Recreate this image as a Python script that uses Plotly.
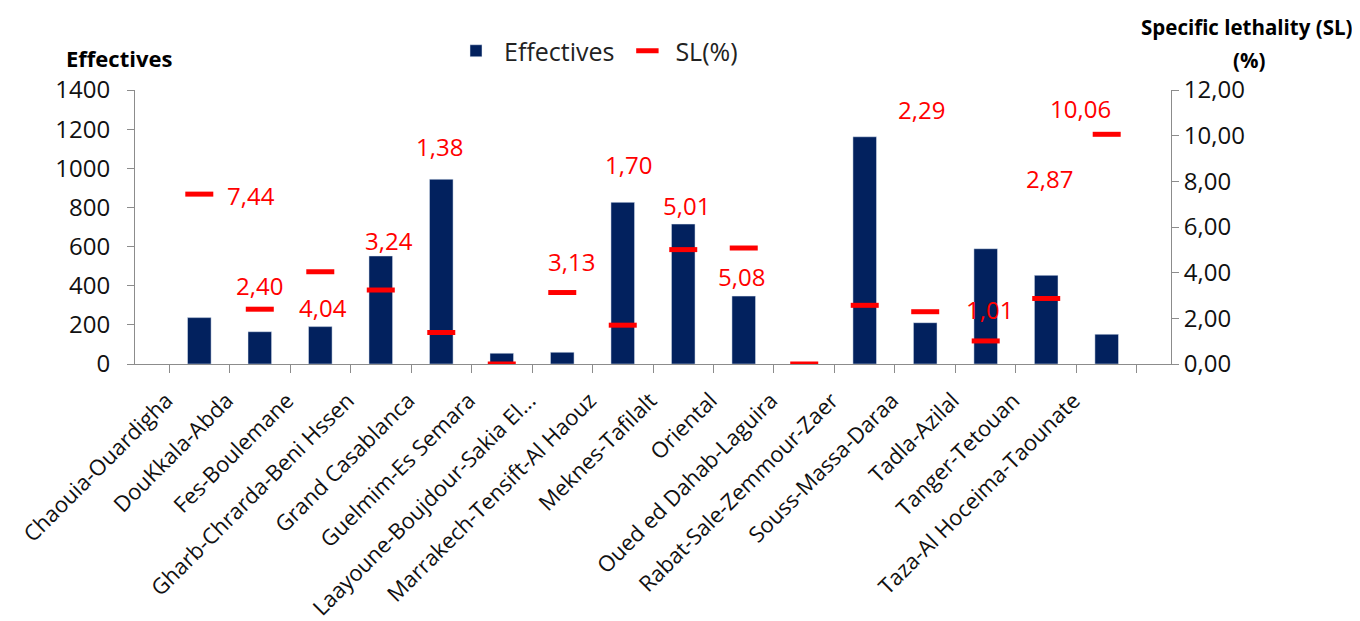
import plotly.graph_objects as go

regions = ["Chaouia-Ouardigha", "DouKkala-Abda", "Fes-Boulemane", "Gharb-Chrarda-Beni Hssen",
           "Grand Casablanca", "Guelmim-Es Semara", "Laayoune-Boujdour-Sakia El...",
           "Marrakech-Tensift-Al Haouz", "Meknes-Tafilalt", "Oriental", "Oued ed Dahab-Laguira",
           "Rabat-Sale-Zemmour-Zaer", "Souss-Massa-Daraa", "Tadla-Azilal", "Tanger-Tetouan",
           "Taza-Al Hoceima-Taounate"]
effectives = [237, 165, 191, 552, 944, 55, 60, 826, 715, 347, 2, 1161, 211, 589, 453, 152]
sl = [7.44, 2.40, 4.04, 3.24, 1.38, 0.0, 3.13, 1.70, 5.01, 5.08, 0.0, 2.57, 2.29, 1.01, 2.87, 10.06]
# which SL values carry a visible label in the reference
sl_labelled = [True, True, True, True, True, False, True, True, True, True, False, False, True, True, True, True]

# label placement (layout only): y in SL units, x shift in pixels
label_y = [7.4, 3.46, 2.47, 5.39, 9.52, 0, 4.51, 8.72, 6.92, 3.82, 0, 0, 11.16, 2.37, 8.13, 11.2]
label_dx = [52, 0, 3, 8, -2, 0, 9, 6, 3, -2, 0, 0, -4, 4, 3, -26]

FONT = "Open Sans"
NAVY = "#02215E"
RED = "#FF0000"
AXIS = "#8C8C8C"

W, H = 1360, 621
L, R, T, B = 127, 197, 82, 265
OX, OY = 2, 8  # page offset of the figure


def px(x):
    return (x - OX - L) / (W - L - R)


def py(y):
    return (H - B - (y - OY)) / (H - T - B)


fig = go.Figure()
fig.add_trace(go.Bar(x=regions, y=effectives, name="Effectives", marker_color=NAVY,
                     width=0.39, yaxis="y"))
fig.add_trace(go.Scatter(x=regions, y=sl, name="SL(%)", mode="markers", yaxis="y2",
                         marker=dict(symbol="line-ew", size=20, color=RED,
                                     line=dict(color=RED, width=5))))

for r, v, show, ly, dx in zip(regions, sl, sl_labelled, label_y, label_dx):
    if show:
        fig.add_annotation(x=r, y=ly, xref="x", yref="y2", text=f"{v:.2f}".replace(".", ","),
                           showarrow=False, xshift=dx, xanchor="center", yanchor="middle",
                           font=dict(family=FONT, size=24, color=RED))

fig.add_annotation(x=px(113), y=py(58), xref="paper", yref="paper", text="<b>Effectives</b>",
                   showarrow=False, xanchor="center", yanchor="middle",
                   font=dict(family=FONT, size=22, color="black"))
fig.add_annotation(x=px(1241), y=py(27), xref="paper", yref="paper",
                   text="<b>Specific lethality (SL)</b>", showarrow=False,
                   xanchor="center", yanchor="middle",
                   font=dict(family=FONT, size=20.5, color="black"))
fig.add_annotation(x=px(1243), y=py(60), xref="paper", yref="paper",
                   text="<b>(%)</b>", showarrow=False,
                   xanchor="center", yanchor="middle",
                   font=dict(family=FONT, size=20.5, color="black"))

fig.update_layout(
    width=W, height=H,
    margin=dict(l=L, r=R, t=T, b=B, autoexpand=False),
    plot_bgcolor="white", paper_bgcolor="white",
    separators=",.",
    font=dict(family=FONT, size=22, color="black"),
    bargap=0.6,
    showlegend=True,
    legend=dict(orientation="h", x=px(442), y=py(51), xanchor="left", yanchor="middle",
                font=dict(family=FONT, size=25, color="#222222"), itemwidth=46,
                bgcolor="rgba(0,0,0,0)"),
    xaxis=dict(type="category", tickangle=-45, tickfont=dict(family=FONT, size=22, color="#111111"),
               showline=True, linecolor=AXIS, linewidth=1,
               ticks="outside", tickson="boundaries", ticklen=8, tickcolor=AXIS,
               ticklabelshift=-33, ticklabelstandoff=14,
               showgrid=False),
    yaxis=dict(range=[0, 1400], dtick=200, showline=True, linecolor=AXIS,
               ticks="outside", ticklen=7, tickcolor=AXIS, showgrid=False, zeroline=False,
               separatethousands=False, ticklabelstandoff=12,
               tickfont=dict(family=FONT, size=24, color="#111111")),
    yaxis2=dict(range=[0, 12], dtick=2, overlaying="y", side="right", tickformat=".2f",
                showline=True, linecolor=AXIS, ticks="outside", ticklen=7,
                tickcolor=AXIS, showgrid=False, zeroline=False,
                tickfont=dict(family=FONT, size=24, color="#111111")),
)

fig.write_html("out.html")
